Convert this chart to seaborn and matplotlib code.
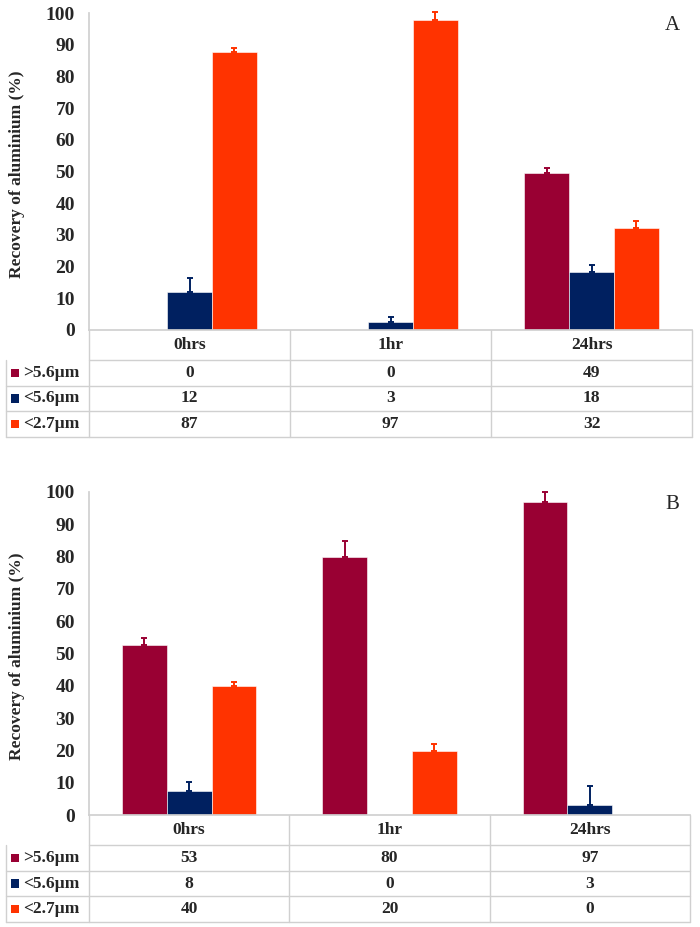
#!/usr/bin/env python3

import numpy as np
from matplotlib import pyplot as plt
import seaborn as sns
import pandas as pd


time_points = ["0hrs", "1hr", "24hrs"]
size_classes = [">5.6µm", "<5.6µm", "<2.7µm"]
size_colors = ["#990033", "#002060", "#FF3300"]

# panel A: bar heights, upper error and the rounded values shown in the table
a_large = [0.0, 0.0, 49.4]
a_medium = [12.0, 2.5, 18.4]
a_small = [87.7, 97.8, 32.3]
a_large_err = [0.0, 0.0, 1.6]
a_medium_err = [4.5, 1.6, 2.2]
a_small_err = [1.3, 2.5, 2.2]
a_table = [[0, 0, 49], [12, 3, 18], [87, 97, 32]]

# panel B
b_large = [52.6, 79.9, 96.9]
b_medium = [7.4, 0.0, 3.1]
b_small = [39.9, 19.8, 0.0]
b_large_err = [2.2, 4.9, 3.1]
b_medium_err = [2.8, 0.0, 5.9]
b_small_err = [1.3, 2.2, 0.0]
b_table = [[53, 80, 97], [8, 0, 3], [40, 20, 0]]

y_title = "Recovery of aluminium (%)"
grid_color = "#d0d0d0"
W, H = 700, 927
txt_size = 12.5


def make_df(large, medium, small):
    rows = {"Time": [], "Size": [], "Recovery": []}
    for size, vals in zip(size_classes, [large, medium, small]):
        for t, v in zip(time_points, vals):
            rows["Time"].append(t)
            rows["Size"].append(size)
            rows["Recovery"].append(v)
    return pd.DataFrame(rows)


def draw_panel(fig, over, box, row_lines, vals, errs, table_vals, tag):
    left, top, right, bottom, tbl_bottom = box
    ax = fig.add_axes([left / W, 1 - bottom / H, (right - left) / W, (bottom - top) / H])
    df = make_df(*vals)
    sns.barplot(data=df, x="Time", y="Recovery", hue="Size", order=time_points,
                hue_order=size_classes, palette=size_colors, width=0.67, saturation=1,
                errorbar=None, legend=False, edgecolor="white", linewidth=0.4, ax=ax)
    for cont, err_list, col in zip(ax.containers, errs, size_colors):
        for bar, e in zip(cont.patches, err_list):
            if e <= 0:
                continue
            xc = bar.get_x() + bar.get_width() / 2
            ax.errorbar(xc, bar.get_height(), yerr=[[0], [e]], color=col,
                        elinewidth=1.4, capsize=2.5, capthick=1.4, clip_on=False)
    ax.set_xlim(-0.5, 2.5)
    ax.set_ylim(0, 100)
    ax.set_yticks(range(0, 101, 10))
    ax.set_xticks([])
    ax.set_xlabel("")
    ax.set_ylabel(y_title, fontsize=12.5, fontweight="bold")
    ax.yaxis.set_label_coords(-(left - 25) / (right - left), 0.49)
    ax.tick_params(axis="y", length=0, pad=10, labelsize=14)
    for lab in ax.get_yticklabels():
        lab.set_fontweight("bold")
    for s in ["top", "right"]:
        ax.spines[s].set_visible(False)
    ax.spines["left"].set_color(grid_color)
    ax.spines["bottom"].set_color(grid_color)
    ax.text((672 - left) / (right - left), 1 - 13 / (bottom - top), tag,
            transform=ax.transAxes, fontsize=15, ha="center", va="center")

    # data table under the chart, drawn in pixel coordinates
    lw = 1.0
    over.plot([left, left], [bottom, tbl_bottom], color=grid_color, lw=lw)
    over.plot([right, right], [bottom, tbl_bottom], color=grid_color, lw=lw)
    over.plot([6, 6], [row_lines[0], tbl_bottom], color=grid_color, lw=lw)
    col_w = (right - left) / 3
    for i in range(1, 3):
        xv = left + i * col_w
        over.plot([xv, xv], [bottom, tbl_bottom], color=grid_color, lw=lw)
    over.plot([left, right], [row_lines[0], row_lines[0]], color=grid_color, lw=lw)
    for yv in row_lines[1:] + [tbl_bottom]:
        over.plot([6, right], [yv, yv], color=grid_color, lw=lw)
    edges = [bottom] + row_lines + [tbl_bottom]
    centers = [(edges[k] + edges[k + 1]) / 2 for k in range(len(edges) - 1)]
    for i, t in enumerate(time_points):
        over.text(left + (i + 0.5) * col_w, centers[0], t, ha="center", va="center",
                  fontsize=txt_size, fontweight="bold")
    for r, (size, col) in enumerate(zip(size_classes, size_colors)):
        yc = centers[r + 1]
        over.scatter([15], [yc], marker="s", s=36, color=col, edgecolors="none")
        over.text(23, yc, size, ha="left", va="center", fontsize=txt_size, fontweight="bold")
        for i in range(3):
            over.text(left + (i + 0.5) * col_w, yc, str(table_vals[r][i]), ha="center",
                      va="center", fontsize=txt_size, fontweight="bold")
    return ax


def main():
    sns.set_theme(style="white")
    plt.rcParams["font.family"] = ["Liberation Serif", "DejaVu Serif"]
    fig = plt.figure(figsize=(7, 9.27), dpi=100)
    over = fig.add_axes([0, 0, 1, 1])
    over.set_xlim(0, W)
    over.set_ylim(H, 0)
    over.axis("off")
    over.patch.set_visible(False)

    draw_panel(fig, over, (89, 13, 692, 330, 437), [360, 386, 411],
               [a_large, a_medium, a_small], [a_large_err, a_medium_err, a_small_err],
               a_table, "A")
    draw_panel(fig, over, (89, 492, 690, 815, 922), [845, 871, 896],
               [b_large, b_medium, b_small], [b_large_err, b_medium_err, b_small_err],
               b_table, "B")
    fig.savefig("out.png", dpi=100)


if __name__ == "__main__":
    main()
